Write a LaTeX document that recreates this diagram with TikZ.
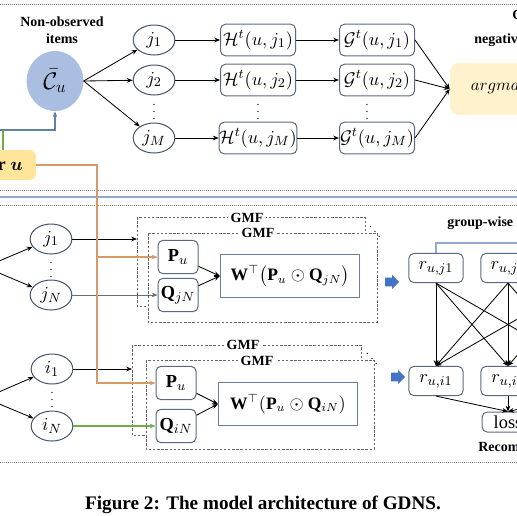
\documentclass[tikz,border=0pt]{standalone}
\usepackage{fontspec}
\setmainfont{Liberation Serif}
\usepackage{amsmath}
\usepackage{amssymb}
\usetikzlibrary {arrows.meta}
\usetikzlibrary{shapes.geometric}
\usetikzlibrary{shapes.arrows}

\definecolor{nodeline}{RGB}{68,84,106}
\definecolor{boxline}{RGB}{90,105,130}
\definecolor{candblue}{RGB}{170,190,225}
\definecolor{useryellow}{RGB}{255,229,153}
\definecolor{selyellow}{RGB}{255,242,204}
\definecolor{userorange}{RGB}{214,154,104}
\definecolor{itemgreen}{RGB}{112,173,71}
\definecolor{steelline}{RGB}{100,128,165}
\definecolor{sepblue}{RGB}{143,170,205}
\definecolor{arrowblue}{RGB}{68,114,196}

\tikzset{
  itemnode/.style={draw=nodeline, line width=0.6pt, ellipse, minimum width=25pt, minimum height=18pt, inner sep=0pt, font=\fontsize{11}{13}\selectfont},
  scorebox/.style={draw=boxline, line width=0.6pt, rounded corners=3pt, minimum width=45pt, minimum height=19pt, inner sep=0pt, font=\fontsize{11}{13}\selectfont},
  embbox/.style={scorebox, minimum width=24pt, minimum height=20pt},
  prodbox/.style={draw=steelline, line width=0.7pt, minimum width=83.5pt, minimum height=25.5pt, inner sep=0pt, font=\fontsize{10.5}{12}\selectfont},
  rankbox/.style={scorebox, minimum width=32.5pt, minimum height=17.5pt},
  lossbox/.style={scorebox, minimum width=31pt, minimum height=12pt},
  tagtext/.style={font=\bfseries\fontsize{8.4}{10}\selectfont, align=center, inner sep=0pt},
  gmfbox/.style={draw=gray!80!black, dash pattern=on 1.5pt off 1pt, line width=0.5pt},
  gmftext/.style={tagtext, fill=white, inner sep=1.5pt},
  sepline/.style={gray, dash pattern=on 0.6pt off 0.6pt, line width=0.5pt},
  wire/.style={->, line width=0.5pt},
  blockarrow/.style={single arrow, fill=arrowblue, minimum height=8.4pt, minimum width=8pt, single arrow head extend=1.6pt, inner sep=2.4pt},
  dotsnode/.style={font=\fontsize{7}{8}\selectfont, inner sep=0pt}
}

\begin{document}
\begin{tikzpicture}[x=0.6pt, y=-0.6pt, >={Stealth[length=3.5pt,width=2.8pt]}]

        \useasboundingbox (0,0) rectangle (517,515);
        \clip (0,0) rectangle (517,515);

        \draw[sepline] (0,4) -- (517,4);
        \draw[sepline] (0,190) -- (517,190);
        \draw[sepblue, line width=0.8pt] (0,197) -- (517,197);
        \draw[sepline] (0,205) -- (517,205);
        \draw[sepline] (0,462) -- (517,462);

        % candidate side
        \node[tagtext] (obstitle) at (62,30) {Non-observed\\items};
        \node[ellipse, fill=candblue, minimum width=34pt, minimum height=36pt, inner sep=0pt, font=\fontsize{14}{16}\selectfont] (cand) at (55,81) {$\bar{\mathcal{C}}_u$};
        \node[itemnode] (j1) at (154,40) {$j_1$};
        \node[itemnode] (j2) at (154,80) {$j_2$};
        \node[dotsnode] (jdots) at (154,107) {$\vdots$};
        \node[itemnode] (jM) at (154,138) {$j_M$};

        \node[scorebox] (H1) at (258,40) {$\mathcal{H}^t(u,j_1)$};
        \node[scorebox] (H2) at (258,80) {$\mathcal{H}^t(u,j_2)$};
        \node[dotsnode] (Hdots) at (258,107) {$\vdots$};
        \node[scorebox] (HM) at (258,138) {$\mathcal{H}^t(u,j_M)$};
        \node[scorebox] (G1) at (377,40) {$\mathcal{G}^t(u,j_1)$};
        \node[scorebox] (G2) at (377,80) {$\mathcal{G}^t(u,j_2)$};
        \node[dotsnode] (Gdots) at (367,107) {$\vdots$};
        \node[scorebox] (GM) at (377,138) {$\mathcal{G}^t(u,j_M)$};

        \node[fill=selyellow, rounded corners=5pt, minimum width=60pt, minimum height=31pt, font=\fontsize{10}{12}\selectfont] (amax) at (500,89) {$argmax$};
        \node[tagtext, anchor=west] (seltop) at (512,15) {Candidate};
        \node[tagtext, anchor=west] (selbot) at (474,40) {negative sampling};

        \foreach \r in {1,2,M} {
          \draw[wire] (cand.east) -- (j\r);
          \draw[wire] (j\r) -- (H\r);
          \draw[wire] (H\r) -- (G\r);
          \draw[wire] (G\r.east) -- (amax.west);
        }

        % user
        \coordinate (cin) at (-10,130);
        \coordinate (gtop) at (3,130);
        \node[fill=useryellow, rounded corners=4pt, minimum width=48pt, minimum height=18pt, font=\fontsize{11}{13}\selectfont] (user) at (-4,165) {\textbf{User} $\boldsymbol{u}$};
        \draw[itemgreen, line width=0.7pt] (user.north -| gtop) -- (gtop) -- (cin);
        \draw[steelline, line width=0.7pt, ->] (cin) -| (cand.south);

        % GMF blocks
        \draw[gmfbox] (137,217) rectangle (365,306);
        \node[gmftext] (gmfa) at (247,218) {GMF};
        \draw[gmfbox, fill=white] (148,233) rectangle (377,322);
        \node[gmftext] (gmfb) at (258,233) {GMF};
        \node[font=\fontsize{7}{8}\selectfont, inner sep=0pt] (more1) at (375,227) {$\ddots$};

        \draw[gmfbox] (132,345) rectangle (361,435);
        \node[gmftext] (gmfc) at (243,345) {GMF};
        \draw[gmfbox, fill=white] (146,360) rectangle (374,449);
        \node[gmftext] (gmfd) at (257,361) {GMF};
        \node[font=\fontsize{7}{8}\selectfont, inner sep=0pt] (more2) at (372,354) {$\ddots$};

        \coordinate (s1) at (-15,267);
        \node[itemnode] (bj1) at (51,239) {$j_1$};
        \node[dotsnode] (bjdots) at (51,265) {$\vdots$};
        \node[itemnode] (bjN) at (51,295) {$j_N$};
        \node[embbox] (P1) at (178,257) {$\mathbf{P}_u$};
        \node[embbox] (Q1) at (178,295) {$\mathbf{Q}_{jN}$};
        \node[prodbox] (W1) at (290,276) {$\mathbf{W}^{\top}\bigl(\mathbf{P}_u \odot \mathbf{Q}_{jN}\bigr)$};
        \node[blockarrow] (ba1) at (390,282) {};
        \coordinate (g1in) at (137,239);

        \coordinate (s2) at (-15,398);
        \node[itemnode] (bi1) at (52,369) {$i_1$};
        \node[dotsnode] (bidots) at (52,395) {$\vdots$};
        \node[itemnode] (biN) at (52,426) {$i_N$};
        \node[embbox] (P2) at (176,383) {$\mathbf{P}_u$};
        \node[embbox] (Q2) at (176,426) {$\mathbf{Q}_{iN}$};
        \node[prodbox] (W2) at (288,404) {$\mathbf{W}^{\top}(\mathbf{P}_u \odot \mathbf{Q}_{iN})$};
        \node[blockarrow] (ba2) at (396,377) {};
        \coordinate (g2in) at (132,369);

        \draw[wire] (s1) -- (bj1);
        \draw[wire] (s1) -- (bjN);
        \draw[wire] (bj1) -- (g1in);
        \draw[wire, gray!85!black] (bjN) -- (Q1);
        \draw[wire] (P1) -- (W1.west);
        \draw[wire] (Q1) -- (W1.west);

        \draw[wire] (s2) -- (bi1);
        \draw[wire] (s2) -- (biN);
        \draw[wire] (bi1) -- (g2in);
        \draw[wire, itemgreen, line width=0.7pt] (biN) -- (Q2);
        \draw[wire] (P2) -- (W2.west);
        \draw[wire] (Q2) -- (W2.west);

        \coordinate (bend1) at (97,257);
        \coordinate (bend2) at (97,383);
        \draw[userorange, line width=0.7pt, ->] (user.east) -| (bend2) -- (P2.west);
        \draw[userorange, line width=0.7pt, ->] (bend1) -- (P1.west);

        % group-wise ranking
        \node[tagtext, anchor=west] (grouptitle) at (447,223) {group-wise ranking};
        \node[tagtext, anchor=west] (rectitle) at (478,447) {Recommendation};
        \node[rankbox] (rj1) at (436,268) {$r_{u,j1}$};
        \node[rankbox] (rj2) at (508,268) {$r_{u,j2}$};
        \node[rankbox] (rj3) at (580,268) {$r_{u,j3}$};
        \node[rankbox] (ri1) at (436,381) {$r_{u,i1}$};
        \node[rankbox] (ri2) at (508,381) {$r_{u,i2}$};
        \node[rankbox] (ri3) at (580,381) {$r_{u,i3}$};
        \node[lossbox] (loss) at (508,422) {loss};
        \draw[sepblue, line width=0.7pt] (rj1.north) -- ++(0,-10) -| (rj3.north);

        \foreach \a in {1,2,3} {
          \foreach \b in {1,2,3}
            \draw[wire] (rj\a.south) -- (ri\b.north);
          \draw[wire] (ri\a.south) -- (loss.north);
        }

        \node[font=\bfseries\fontsize{11.5}{14}\selectfont, inner sep=0pt] (caption) at (263,505) {Figure 2: The model architecture of GDNS.};

      \end{tikzpicture}
\end{document}
